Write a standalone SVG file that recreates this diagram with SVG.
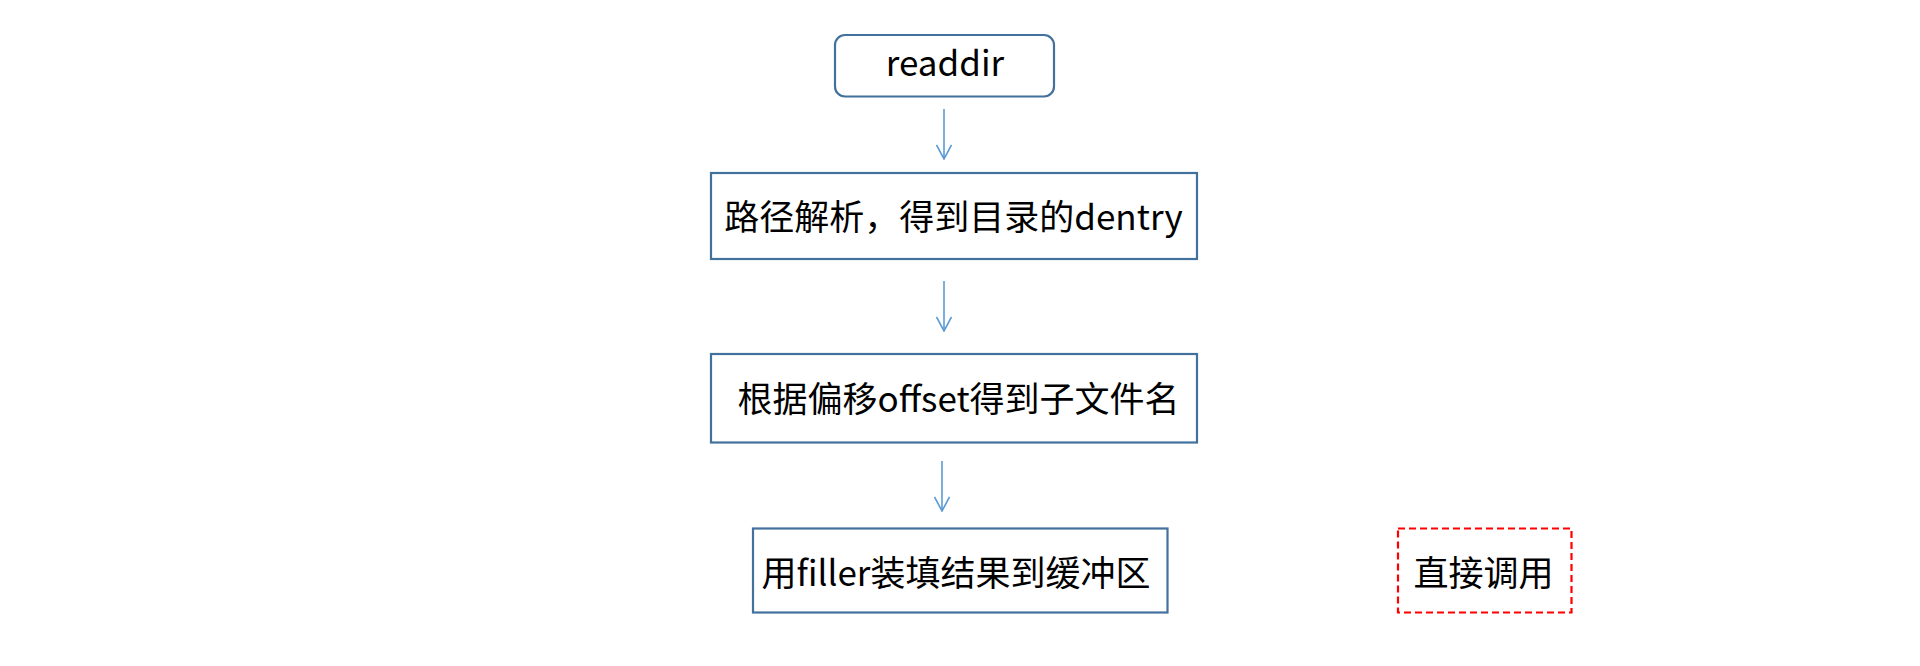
<svg xmlns="http://www.w3.org/2000/svg" width="1920" height="666" viewBox="0 0 1920 666">
<defs>
<style>
.box{fill:#fff;stroke:#41719c;stroke-width:2.2}
.dash{fill:#fff;stroke:#ff0000;stroke-width:2.2;stroke-dasharray:7 4}
.t{font-family:"Noto Sans CJK SC","Noto Sans",sans-serif;font-size:35px;fill:#000;text-anchor:middle}
.c{fill:none;stroke:#5b9bd5;stroke-width:1.6}
</style>
<marker id="ah" viewBox="0 0 16 16" refX="15" refY="8" markerWidth="16" markerHeight="16" markerUnits="userSpaceOnUse" orient="auto">
<path d="M1,0.5 L15,8 L1,15.5" fill="none" stroke="#5b9bd5" stroke-width="1.6"/>
</marker>
</defs>
<rect width="1920" height="666" fill="#fff"/>
<g id="connectors">
<path class="c" d="M944,109 V159" marker-end="url(#ah)"/>
<path class="c" d="M944,281 V331" marker-end="url(#ah)"/>
<path class="c" d="M942,461 V511" marker-end="url(#ah)"/>
</g>
<g id="n-readdir">
<rect class="box" x="835" y="35" width="219" height="61.5" rx="10"/>
<text class="t" x="945" y="76">readdir</text>
</g>
<g id="n-parse">
<rect class="box" x="711" y="173" width="486" height="86"/>
<text class="t" x="953.5" y="230">路径解析，得到目录的dentry</text>
</g>
<g id="n-offset">
<rect class="box" x="711" y="354" width="486" height="88.5"/>
<text class="t" x="958.5" y="412">根据偏移offset得到子文件名</text>
</g>
<g id="n-filler">
<rect class="box" x="753" y="528.5" width="414.5" height="84"/>
<text class="t" x="956" y="586">用filler装填结果到缓冲区</text>
</g>
<g id="n-direct">
<rect class="dash" x="1398" y="528.5" width="173.5" height="84"/>
<text class="t" x="1483.5" y="586">直接调用</text>
</g>
</svg>
